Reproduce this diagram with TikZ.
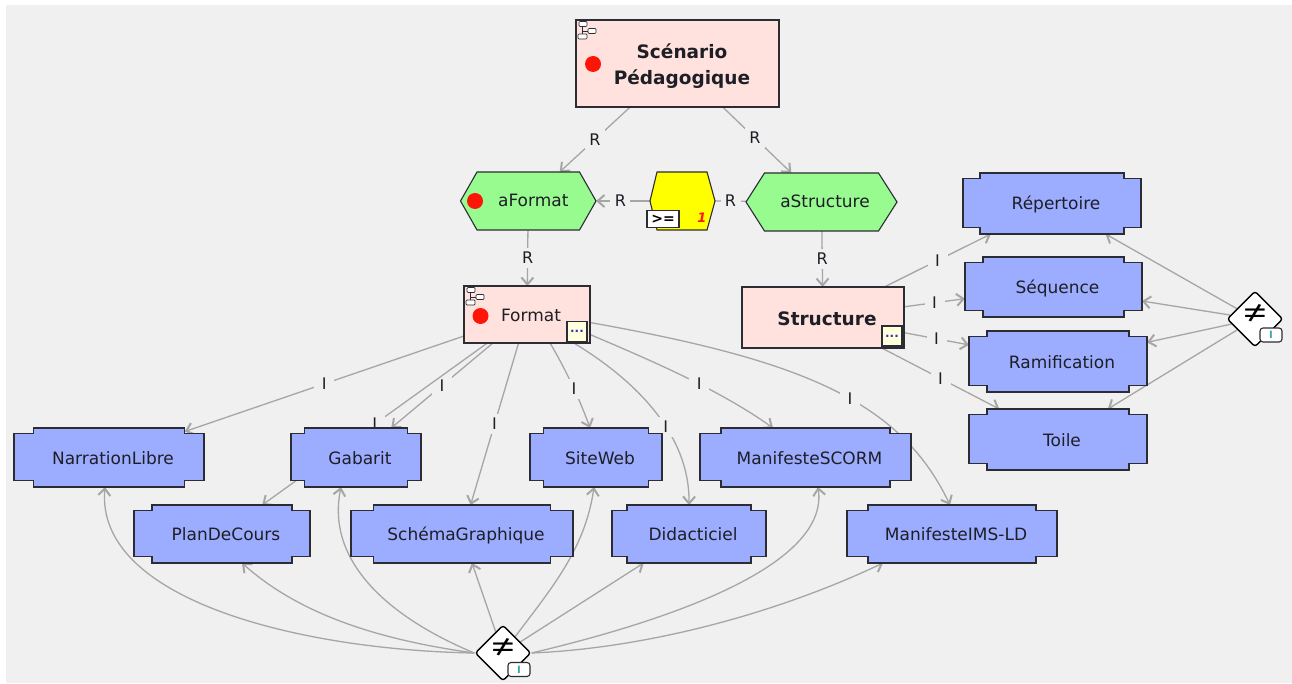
\documentclass[tikz,border=0pt]{standalone}
\usepackage{fontspec}
\setmainfont{DejaVu Sans}
\newfontfamily\neqfont[FakeStretch=1.3]{Open Sans}
\usetikzlibrary{arrows.meta,shapes.geometric,calc}
\pgfdeclarelayer{bg}\pgfdeclarelayer{lines}\pgfdeclarelayer{boxes}
\pgfsetlayers{bg,lines,boxes,main}
\definecolor{pagegray}{HTML}{F0F0F0}
\definecolor{edgegray}{HTML}{A6A6A6}
\definecolor{inkc}{HTML}{1E1E26}
\definecolor{linec}{HTML}{2C2C34}
\definecolor{pinkc}{HTML}{FFE2DE}
\definecolor{bluec}{HTML}{9CADFF}
\definecolor{greenc}{HTML}{98FB90}
\definecolor{creamc}{HTML}{FFFFDC}
\definecolor{tealc}{HTML}{3AA6A6}
\definecolor{yellowc}{HTML}{FFFF00}
\definecolor{redc}{HTML}{FF1408}
\tikzset{
  anynode/.style={inner sep=0pt,outer sep=0pt,text=inkc},
  bigfont/.style={font=\fontsize{18.5}{26}\selectfont\bfseries},
  midfont/.style={font=\fontsize{17}{20}\selectfont},
  edge/.style={draw=edgegray,line width=1.3pt},
  arrow/.style={edge,-{Straight Barb[length=7pt,width=12pt,line width=2pt]}},
  lbl/.style={fill=pagegray,inner sep=2pt,outer sep=0pt,font=\fontsize{16}{18}\selectfont,text=inkc,minimum width=20pt,minimum height=20pt},
  outline/.style={draw=linec,line width=1.1pt,line join=miter},
  reddot/.style={circle,fill=redc,minimum size=16pt,inner sep=0pt},
  morebox/.style={draw=linec,line width=1.1pt,fill=creamc,minimum width=20pt,minimum height=20pt,inner sep=0pt,font=\bfseries\fontsize{12}{12}\selectfont,text=blue!60!gray},
  dia/.style={diamond,draw=black,line width=1.4pt,fill=white,rounded corners=3pt,minimum width=56pt,minimum height=56pt,inner sep=0pt,aspect=1,font=\neqfont\fontsize{32}{32}\selectfont,text=black,text height=10pt,text depth=0pt},
  badge/.style={draw=linec,line width=1.1pt,fill=white,rounded corners=3pt,minimum width=22pt,minimum height=14pt,inner sep=0pt,font=\bfseries\fontsize{10}{10}\selectfont,text=tealc},
}
% blue notched box
\newcommand\nbox[7]{%
  \pgfmathsetmacro\mycx{(#2+#4)/2}\pgfmathsetmacro\mycy{(#3+#5)/2}%
  \pgfmathsetmacro\myw{#4-#2}\pgfmathsetmacro\myh{#5-#3}%
  \node[anynode,midfont,text height=14pt,text depth=1pt,minimum width=\myw pt,minimum height=\myh pt] (#1) at (\mycx,\mycy) {\hspace*{8pt}#7};
  \begin{pgfonlayer}{boxes}
  \pgfmathsetmacro\xa{#2+#6}\pgfmathsetmacro\xb{#4-#6}%
  \pgfmathsetmacro\ya{#3+5.5}\pgfmathsetmacro\yb{#5-6.5}%
  \filldraw[outline,fill=bluec] (#2,\ya) -- (\xa,\ya) -- (\xa,#3) -- (\xb,#3) -- (\xb,\ya) -- (#4,\ya) -- (#4,\yb) -- (\xb,\yb) -- (\xb,#5) -- (\xa,#5) -- (\xa,\yb) -- (#2,\yb) -- cycle;
  \end{pgfonlayer}}
% hexagon
\newcommand\hexa[8]{%
  \pgfmathsetmacro\mycx{(#2+#4)/2}\pgfmathsetmacro\mycy{(#3+#5)/2}%
  \pgfmathsetmacro\myw{#4-#2}\pgfmathsetmacro\myh{#5-#3}%
  \node[anynode,midfont,text height=13pt,text depth=1pt,minimum width=\myw pt,minimum height=\myh pt] (#1) at (\mycx,\mycy) {\hspace*{#8pt}#7};
  \begin{pgfonlayer}{boxes}
  \pgfmathsetmacro\xa{#2+#6}\pgfmathsetmacro\xb{#4-#6}%
  \filldraw[outline,fill=greenc] (#2,\mycy) -- (\xa,#3) -- (\xb,#3) -- (#4,\mycy) -- (\xb,#5) -- (\xa,#5) -- cycle;
  \end{pgfonlayer}}
% hierarchy icon
\newcommand\treeicon[2]{%
  \begin{scope}[shift={(#1,#2)},draw=linec,line width=0.7pt]
    \draw (4.5,5) -- (4.5,13) (4.5,10) -- (11,10);
    \filldraw[fill=white,rounded corners=1pt] (1,0.5) rectangle (9,5.5);
    \filldraw[fill=white,rounded corners=1pt] (10,7.5) rectangle (18,12.5);
    \filldraw[fill=white,rounded corners=1pt] (0,13) rectangle (9,18);
  \end{scope}}
\begin{document}
\begin{tikzpicture}[x=1pt,y=-1pt]
\useasboundingbox (0,0) rectangle (1292,684);
\begin{pgfonlayer}{bg}
  \fill[white] (0,0) rectangle (1292,684);
  \fill[pagegray] (6,5) rectangle (1292,683);
\end{pgfonlayer}

% pink boxes
\node[anynode,bigfont,align=center,draw=linec,line width=1.1pt,fill=pinkc,minimum width=203pt,minimum height=87pt] (scen) at (677.5,63.5) {\rule{0pt}{20pt}\hspace*{9pt}Scénario\\\hspace*{9pt}Pédagogique};
\node[anynode,midfont,text height=15pt,text depth=1pt,draw=linec,line width=1.1pt,fill=pinkc,minimum width=126pt,minimum height=57pt] (fmt) at (527,314.5) {\hspace*{8pt}Format};
\node[anynode,bigfont,text height=18pt,text depth=1pt,draw=linec,line width=1.1pt,fill=pinkc,minimum width=162pt,minimum height=61pt] (struct) at (823,317.5) {\hspace*{8pt}Structure};
\treeicon{578}{21}
\treeicon{466}{287}
\node[reddot] (dotS) at (593,64) {};
\node[reddot] (dotF) at (480.5,316) {};
\node[morebox] (moreF) at (577,331.5) {...};
\node[morebox] (moreS) at (892,336) {...};

% hexagons
\hexa{afmt}{460.5}{172}{596}{230}{16.5}{aFormat}{10}
\hexa{astr}{746}{173}{897}{231}{18.5}{aStructure}{7}
\node[reddot] (dotA) at (475,201) {};
\begin{pgfonlayer}{boxes}
  \filldraw[outline,fill=yellowc] (650,201) -- (657,172) -- (707,172) -- (715,201) -- (707,230) -- (657,230) -- cycle;
\end{pgfonlayer}
\coordinate (yel) at (682.5,201);
\node[anynode,draw=linec,line width=1.1pt,fill=white,minimum width=32pt,minimum height=17pt,font=\bfseries\fontsize{14}{14}\selectfont,text=black] (geq) at (663,219) {>=};
\node[anynode,text=redc,font=\bfseries\itshape\fontsize{13}{13}\selectfont] (one) at (702,218) {1};

% blue boxes
\nbox{narr}{14}{428}{204}{487}{19.5}{NarrationLibre}
\nbox{gab}{291}{428}{421}{487}{13.5}{Gabarit}
\nbox{site}{530}{428}{662}{487}{13.5}{SiteWeb}
\nbox{scorm}{700}{428}{911}{487}{21}{ManifesteSCORM}
\nbox{plan}{134}{505}{310}{563}{18}{PlanDeCours}
\nbox{schema}{351}{505}{573}{563}{22.5}{SchémaGraphique}
\nbox{didac}{612}{505}{766}{563}{15}{Didacticiel}
\nbox{ims}{847}{505}{1057}{563}{21}{ManifesteIMS-LD}
\nbox{rep}{963}{173}{1141}{234}{17}{Répertoire}
\nbox{seq}{965}{257}{1142}{317}{18}{Séquence}
\nbox{ram}{969}{331}{1147}{392}{18}{Ramification}
\nbox{toile}{969}{409}{1147}{470}{18}{Toile}

% exclusion diamonds
\node[dia] (d1) at (1255,319) {≠};
\node[dia] (d2) at (503,653) {≠};
\node[badge] (b1) at (1271,335) {I};
\node[badge] (b2) at (519,669.5) {I};

\begin{pgfonlayer}{lines}
% R edges
\draw[arrow] (scen) -- node[lbl,midway] (r1) {R} (afmt);
\draw[arrow] (scen) -- node[lbl,pos=.47] (r2) {R} (astr);
\draw[arrow] (yel) ++(-32.5,0) -- node[lbl,pos=.55] (r3) {R} (afmt);
\draw[edge] (yel) ++(32.5,0) -- node[lbl,midway] (r4) {R} (astr);
\draw[arrow] (afmt) -- node[lbl,midway] (r5) {R} (fmt);
\draw[arrow] (astr) -- node[lbl,midway] (r6) {R} (struct);
% Format I edges
\draw[arrow,shorten >=-11pt] (fmt) -- node[lbl,pos=.52] (i1) {I} (narr);
\draw[arrow] (fmt) -- node[lbl,midway] (i2) {I} (gab);
\draw[arrow] (fmt) -- node[lbl,midway] (i3) {I} (plan);
\draw[arrow] (fmt) -- node[lbl,midway] (i4) {I} (schema);
\draw[arrow] ([xshift=23pt]fmt.south) .. controls (565,368) and (580,400) .. node[lbl,pos=.55] (i5) {I} ([xshift=-6pt]site.north);
\draw[arrow] (fmt) .. controls (610,365) and (690,420) .. node[lbl,pos=.65] (i6) {I} (didac.north);
\draw[arrow] ([yshift=-20pt]fmt.east) .. controls (650,360) and (720,390) .. node[lbl,pos=.58] (i7) {I} ([xshift=-32.5pt]scorm.north);
\draw[arrow] ([yshift=-8pt]fmt.east) .. controls (800,360) and (900,400) .. node[lbl,pos=.56] (i8) {I} ([xshift=-2pt]ims.north);
% Structure I edges
\draw[arrow] (struct) -- node[lbl,midway] (i9) {I} (rep);
\draw[arrow] (struct) -- node[lbl,midway] (i10) {I} (seq);
\draw[arrow] (struct) -- node[lbl,midway] (i11) {I} (ram);
\draw[arrow] (struct) -- node[lbl,midway] (i12) {I} (toile);
% exclusion right
\draw[arrow] (d1) -- (rep);
\draw[arrow] (d1) -- (seq);
\draw[arrow] (d1) -- (ram);
\draw[arrow] (d1) -- (toile);
% exclusion bottom
\draw[arrow] (d2.west) .. controls (300,650) and (95,600) .. ([xshift=-4pt]narr.south);
\draw[arrow] (d2.west) .. controls (380,640) and (300,615) .. ([xshift=20pt]plan.south);
\draw[arrow] (d2.west) .. controls (395,620) and (325,565) .. ([xshift=-15pt]gab.south);
\draw[arrow] (d2) -- (schema);
\draw[arrow] (d2) .. controls (550,590) and (585,550) .. ([xshift=-2pt]site.south);
\draw[arrow] (d2) -- (didac);
\draw[arrow] (d2.east) .. controls (650,625) and (830,570) .. ([xshift=12.5pt]scorm.south);
\draw[arrow] (d2.east) .. controls (650,648) and (780,612) .. ([xshift=-69pt]ims.south);
\end{pgfonlayer}
\end{tikzpicture}
\end{document}
